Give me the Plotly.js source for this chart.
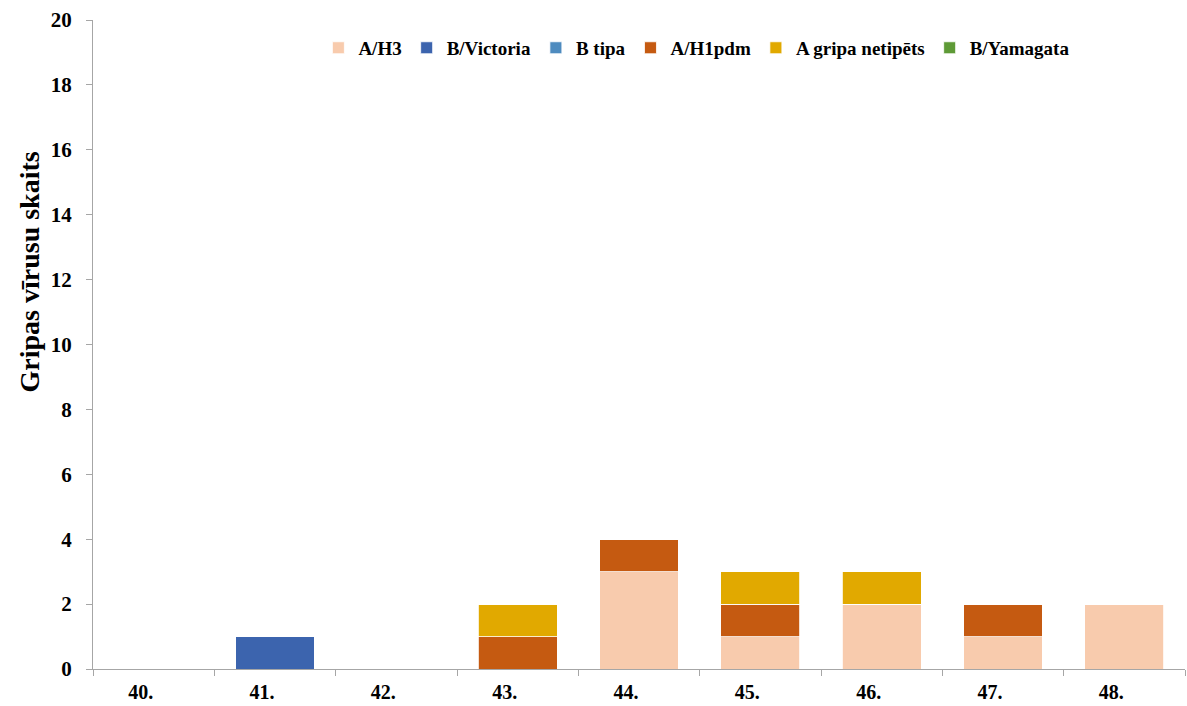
<!DOCTYPE html>
<html>
<head>
<meta charset="utf-8">
<script src="https://cdn.plot.ly/plotly-3.0.1.min.js"></script>
<style>html,body{margin:0;padding:0;background:#fff;}#chart{width:1187px;height:706px;}</style>
</head>
<body>
<div id="chart"></div>
<script>
const weeks = ["40.", "41.", "42.", "43.", "44.", "45.", "46.", "47.", "48."];
const aH3 = [0, 0, 0, 0, 3, 1, 2, 1, 2];
const bVictoria = [0, 1, 0, 0, 0, 0, 0, 0, 0];
const bTipa = [0, 0, 0, 0, 0, 0, 0, 0, 0];
const aH1pdm = [0, 0, 0, 1, 1, 1, 0, 1, 0];
const aNetipets = [0, 0, 0, 1, 0, 1, 1, 0, 0];
const bYamagata = [0, 0, 0, 0, 0, 0, 0, 0, 0];
const yTicks = [0, 2, 4, 6, 8, 10, 12, 14, 16, 18, 20];
const yTitle = "Gripas vīrusu skaits";

const FAM = "Liberation Serif";
const b = s => "<b>" + s + "</b>";

const series = [
  {name: "A/H3", y: aH3, color: "#F8CBAD"},
  {name: "B/Victoria", y: bVictoria, color: "#3C64AE"},
  {name: "B tipa", y: bTipa, color: "#4E8BBF"},
  {name: "A/H1pdm", y: aH1pdm, color: "#C55A11"},
  {name: "A gripa netipēts", y: aNetipets, color: "#E1A900"},
  {name: "B/Yamagata", y: bYamagata, color: "#5E9A36"}
];

const traces = series.map(s => ({
  type: "bar",
  name: b(s.name),
  x: weeks,
  y: s.y,
  marker: {color: s.color, line: {color: "#ffffff", width: 0.8}},
  hoverinfo: "x+y+name"
}));

const layout = {
  width: 1187,
  height: 706,
  barmode: "stack",
  bargap: 0.35,
  paper_bgcolor: "#ffffff",
  plot_bgcolor: "#ffffff",
  font: {family: FAM, color: "#000000", size: 20},
  margin: {l: 93, r: 2, t: 20, b: 37},
  showlegend: true,
  legend: {
    orientation: "h",
    traceorder: "normal",
    x: 0.553, xanchor: "center",
    y: 0.957, yanchor: "middle",
    font: {family: FAM, size: 19, color: "#000000"},
    itemwidth: 30,
    tracegroupgap: 0,
    bgcolor: "rgba(0,0,0,0)"
  },
  xaxis: {
    type: "category",
    tickmode: "array",
    tickvals: weeks,
    ticktext: weeks.map(b),
    showline: true,
    linecolor: "#a6a6a6",
    linewidth: 1,
    ticks: "outside",
    tickson: "boundaries",
    ticklen: 6,
    tickcolor: "#a6a6a6",
    showgrid: false,
    zeroline: false,
    tickfont: {family: FAM, size: 20, color: "#000000"},
    ticklabelstandoff: 5,
    ticklabelshift: -13,
    fixedrange: true
  },
  yaxis: {
    range: [0, 20],
    tickmode: "array",
    tickvals: yTicks,
    ticktext: yTicks.map(v => b(String(v))),
    showline: true,
    linecolor: "#a6a6a6",
    linewidth: 1,
    ticks: "outside",
    ticklen: 6,
    tickcolor: "#a6a6a6",
    showgrid: false,
    zeroline: false,
    tickfont: {family: FAM, size: 21, color: "#000000"},
    ticklabelstandoff: 10,
    fixedrange: true
  },
  annotations: [{
    text: b(yTitle),
    xref: "paper", yref: "paper",
    x: -0.058, y: 0.612,
    xanchor: "center", yanchor: "middle",
    textangle: -90,
    showarrow: false,
    font: {family: FAM, size: 28, color: "#000000"}
  }]
};

Plotly.newPlot("chart", traces, layout, {displayModeBar: false, staticPlot: true});
</script>
</body>
</html>
